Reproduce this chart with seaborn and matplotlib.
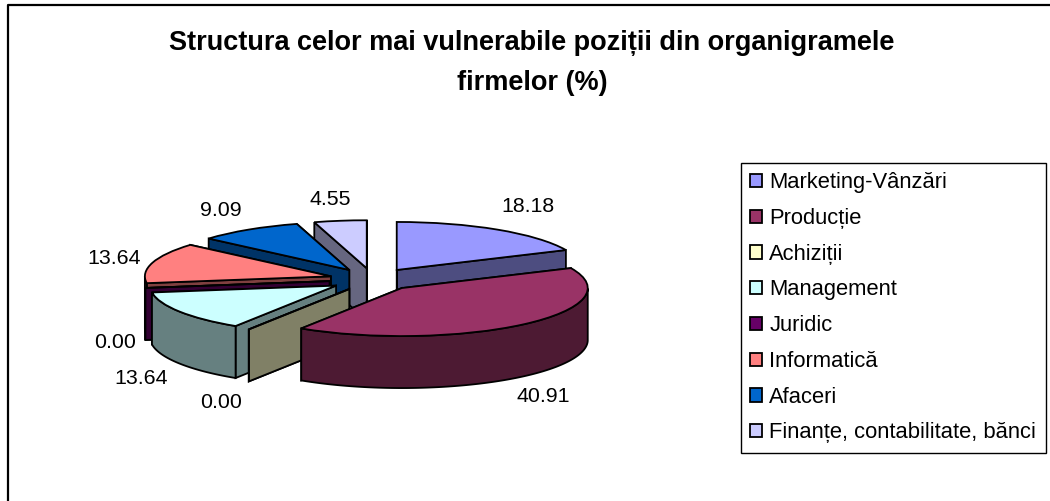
import numpy as np
import matplotlib
matplotlib.use("Agg")
import matplotlib.pyplot as plt
from matplotlib.lines import Line2D
import seaborn as sns

categories = ["Marketing-Vânzări", "Producție", "Achiziții", "Management",
              "Juridic", "Informatică", "Afaceri", "Finanțe, contabilitate, bănci"]
values = [18.18, 40.91, 0.00, 13.64, 0.00, 13.64, 9.09, 4.55]
title = "Structura celor mai vulnerabile poziții din organigramele\nfirmelor (%)"

colors = ["#9999FF", "#993366", "#FFFFCC", "#CCFFFF",
          "#660066", "#FF8080", "#0066CC", "#CCCCFF"]

# value label centres, in pixels of the picture
label_pos = [(528, 207), (543, 396), (221, 403), (141, 378),
             (115, 343), (114, 258), (221, 211), (330, 199)]

# slices painted from the back to the front
paint_order = [7, 0, 6, 5, 4, 3, 2, 1]

W, H = 1050, 501
PIE_X, PIE_Y = 373, 279.5   # pie centre
RX, RY = 186, 48            # squashed radius
DEPTH = 52 / RY
EXPLODE = 0.236

sns.set_theme(style="white")
plt.rcParams["font.family"] = ["Liberation Sans", "DejaVu Sans"]
palette = sns.color_palette(colors)

fig = plt.figure(figsize=(W / 100, H / 100), dpi=100, facecolor="white")
ax = fig.add_axes([0, 0, 1, 1])

wedges, _ = ax.pie(values, colors=palette, startangle=90, counterclock=False,
                   explode=[EXPLODE] * len(values),
                   wedgeprops=dict(edgecolor="black", linewidth=1.3))

# flatten the pie, one data unit is RX pixels across and RY pixels down
ax.set_aspect("auto")
ax.set_xlim(-PIE_X / RX, (W - PIE_X) / RX)
ax.set_ylim(-(H - PIE_Y) / RY, PIE_Y / RY)
ax.axis("off")

# the sides of the slices, half as bright as the top
for rank, i in enumerate(paint_order):
    w = wedges[i]
    cx, cy = w.center
    side = tuple(c * 0.5 for c in palette[i])
    kw = dict(facecolor=side, edgecolor="black", linewidth=1.3, zorder=2 * rank + 2)
    for angle in (w.theta1, w.theta2):
        ex = cx + w.r * np.cos(np.radians(angle))
        ey = cy + w.r * np.sin(np.radians(angle))
        ax.fill([cx, ex, ex, cx], [cy, ey, ey - DEPTH, cy - DEPTH], **kw)
    t = np.radians(np.linspace(w.theta1, w.theta2, 200))
    t = t[np.sin(t) <= 0]
    if len(t) > 1:
        rim_x = cx + w.r * np.cos(t)
        rim_y = cy + w.r * np.sin(t)
        ax.fill(np.r_[rim_x, rim_x[::-1]], np.r_[rim_y, rim_y[::-1] - DEPTH], **kw)
    w.set_zorder(2 * rank + 3)

for v, (x, y) in zip(values, label_pos):
    fig.text(x / W, 1 - y / H, f"{v:.2f}", ha="center", va="center",
             fontsize=15.4, color="black")

fig.text(532 / W, 1 - 63 / H, title, ha="center", va="center", fontsize=19.5,
         fontweight="bold", color="black", linespacing=1.74)

leg = fig.legend(wedges, categories, loc="upper left",
                 bbox_to_anchor=(741 / W, 1 - 163 / H), borderaxespad=0,
                 fontsize=15.85, frameon=True, fancybox=False, framealpha=1,
                 edgecolor="black", labelcolor="black",
                 handlelength=0.55, handleheight=0.55,
                 handletextpad=0.32, labelspacing=0.67, borderpad=0.42)
leg.get_frame().set_linewidth(1.0)

# chart area border, its right and bottom sides are cut off in the picture
fig.add_artist(Line2D([8 / W, 8 / W, 1], [0, 1 - 5 / H, 1 - 5 / H], color="black",
                      linewidth=1.6, transform=fig.transFigure))

fig.savefig("out.png", dpi=100)
